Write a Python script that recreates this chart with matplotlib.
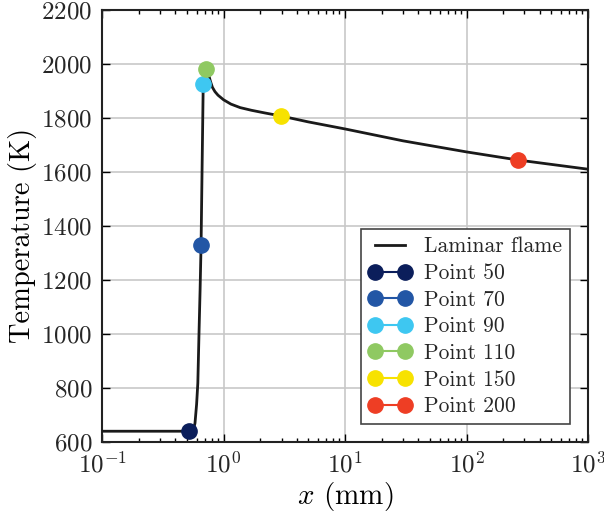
import matplotlib
matplotlib.use("Agg")
import matplotlib.pyplot as plt
import numpy as np

# laminar flame profile
flame_x = [0.1, 0.3, 0.5, 0.55, 0.57, 0.582, 0.60, 0.614, 0.628, 0.641, 0.653, 0.666, 0.679,
           0.70, 0.718, 0.735, 0.755, 0.78, 0.81, 0.85, 0.9, 1.0, 1.15, 1.37, 1.7, 2.2, 2.97,
           5.0, 10, 30, 100, 265, 1000]
flame_T = [640, 640, 640, 642, 652, 670, 740, 818, 1004, 1163, 1330, 1620, 1900,
           1962, 1980, 1975, 1958, 1935, 1913, 1897, 1884, 1867, 1851, 1838, 1828, 1818, 1807,
           1785, 1759, 1715, 1674, 1644, 1610]

point_labels = ["Point 50", "Point 70", "Point 90", "Point 110", "Point 150", "Point 200"]
point_x = [0.52, 0.653, 0.678, 0.718, 2.97, 265]
point_T = [640, 1330, 1926, 1982, 1808, 1645]
point_colors = ["#0b1e5b", "#2256a5", "#3ec7f1", "#8fc962", "#f7e200", "#ee3e24"]

plt.rcParams["font.family"] = "cmr10"
plt.rcParams["mathtext.fontset"] = "cm"
plt.rcParams["axes.formatter.use_mathtext"] = True
plt.rcParams["text.color"] = "#262626"
plt.rcParams["xtick.labelcolor"] = "#262626"
plt.rcParams["ytick.labelcolor"] = "#262626"

fig = plt.figure(figsize=(6.04, 5.17), dpi=100)
ax = fig.add_axes([0.169, 0.145, 0.8045, 0.836])

ax.plot(flame_x, flame_T, color="#1a1a1a", lw=2, label="Laminar flame", zorder=3)
for lab, xx, tt, c in zip(point_labels, point_x, point_T, point_colors):
    ax.plot([xx], [tt], "o-", color=c, ms=11, lw=1.5, label=lab, zorder=4)

ax.set_xscale("log")
ax.set_xlim(0.1, 1000)
ax.set_ylim(600, 2200)
ax.set_yticks(np.arange(600, 2201, 200))
ax.grid(True, which="major", color="#c8c8c8", lw=1.2)
ax.set_axisbelow(True)
ax.tick_params(which="both", direction="in", top=True, right=True, labelsize=18, pad=7)
ax.tick_params(which="major", length=6, width=1)
ax.tick_params(which="minor", length=3, width=1)
for s in ax.spines.values():
    s.set_linewidth(1.5)
    s.set_color("#222222")

ax.set_xlabel(r"$x$ (mm)", fontsize=21, labelpad=2)
ax.set_ylabel("Temperature (K)", fontsize=20.5)
ax.yaxis.set_label_coords(-0.134, 0.477)

leg = ax.legend(loc="lower right", numpoints=2, fontsize=15.5, fancybox=False,
                edgecolor="#444444", framealpha=1, handlelength=2.0,
                borderaxespad=0.85, labelspacing=0.33, borderpad=0.35,
                handletextpad=0.6)
leg.get_frame().set_linewidth(1.2)

fig.savefig("out.png", dpi=100)
